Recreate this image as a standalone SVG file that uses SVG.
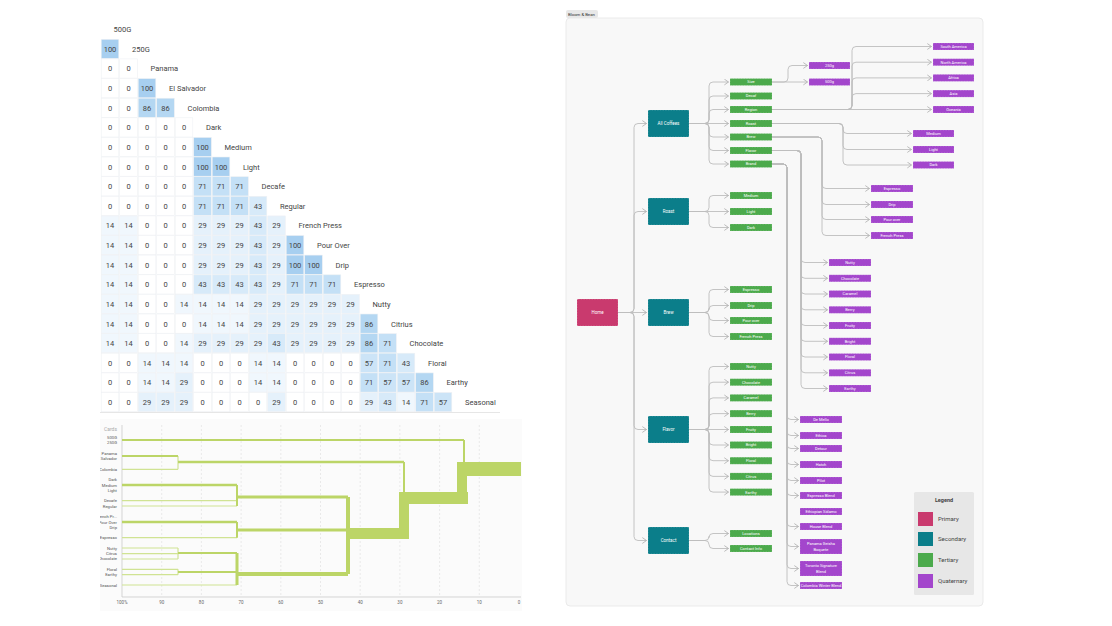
<svg xmlns="http://www.w3.org/2000/svg" width="1112" height="626" viewBox="0 0 1112 626">
<style>
text{font-family:Roboto,"Liberation Sans",sans-serif}
.m rect{width:17.6px;height:19.2px;stroke:#eef1f4;stroke-width:0.6}
.m text{font-size:7.5px;fill:#444;text-anchor:middle}
.m text.lb{text-anchor:start}
.v100{fill:#a7cff0}.v86{fill:#b4d7f2}.v71{fill:#c4e0f6}.v57{fill:#cce4f7}.v43{fill:#d7eaf9}.v29{fill:#e5f1fb}.v14{fill:#f0f7fd}.v0{fill:#ffffff}
.grid{stroke:#dddddd;stroke-width:0.6;stroke-dasharray:2 2}
.dl{fill:none;stroke:#bcd567;stroke-linecap:butt}
.dt{fill:none;stroke:#d0e393;stroke-width:1.2}
.band{fill:#bcd567}
.leaf{font-size:4.2px;fill:#555;text-anchor:end}
.tick{font-size:4.5px;fill:#666;text-anchor:middle}
.cn path{fill:none;stroke:#bdbdbd;stroke-width:0.9;marker-end:url(#ar)}
.nd rect{stroke:#ffffff;stroke-opacity:0.45;stroke-width:0.5;stroke-dasharray:1.5 1.2}
.nd text{fill:#ffffff;text-anchor:middle}
.p rect{fill:#c93a6e}.s rect{fill:#0b7e8a}.t rect{fill:#4caa4c}.q rect{fill:#a346cc}
.s text{font-size:4.5px}.t text,.q text{font-size:4px}.p text{font-size:4.5px}
.lg{font-size:6px;fill:#444}
</style>
<defs>
<marker id="ar" viewBox="0 0 6 8" refX="5.5" refY="4" markerWidth="5" markerHeight="7" markerUnits="userSpaceOnUse" orient="auto"><path d="M0.5,0.5 L5.5,4 L0.5,7.5" fill="none" stroke="#b0b0b0" stroke-width="1"/></marker>
<clipPath id="dc"><rect x="100" y="418" width="422" height="195"/></clipPath>
</defs>
<rect width="1112" height="626" fill="#ffffff"/>

<!-- Similarity matrix -->
<g class="m" id="matrix">
<text class="lb" x="113.5" y="32.3">500G</text>
<g transform="translate(0,39.3)"><rect class="v100" x="101.2"/><text x="110" y="12.6">100</text><text class="lb" x="132" y="12.6">250G</text></g>
<g transform="translate(0,58.9)"><rect class="v0" x="101.2"/><rect class="v0" x="119.7"/><text x="110" y="12.6">0</text><text x="128.5" y="12.6">0</text><text class="lb" x="150.5" y="12.6">Panama</text></g>
<g transform="translate(0,78.6)"><rect class="v0" x="101.2"/><rect class="v0" x="119.7"/><rect class="v100" x="138.2"/><text x="110" y="12.6">0</text><text x="128.5" y="12.6">0</text><text x="147" y="12.6">100</text><text class="lb" x="169" y="12.6">El Salvador</text></g>
<g transform="translate(0,98.2)"><rect class="v0" x="101.2"/><rect class="v0" x="119.7"/><rect class="v86" x="138.2"/><rect class="v86" x="156.7"/><text x="110" y="12.6">0</text><text x="128.5" y="12.6">0</text><text x="147" y="12.6">86</text><text x="165.5" y="12.6">86</text><text class="lb" x="187.5" y="12.6">Colombia</text></g>
<g transform="translate(0,117.8)"><rect class="v0" x="101.2"/><rect class="v0" x="119.7"/><rect class="v0" x="138.2"/><rect class="v0" x="156.7"/><rect class="v0" x="175.2"/><text x="110" y="12.6">0</text><text x="128.5" y="12.6">0</text><text x="147" y="12.6">0</text><text x="165.5" y="12.6">0</text><text x="184" y="12.6">0</text><text class="lb" x="206" y="12.6">Dark</text></g>
<g transform="translate(0,137.4)"><rect class="v0" x="101.2"/><rect class="v0" x="119.7"/><rect class="v0" x="138.2"/><rect class="v0" x="156.7"/><rect class="v0" x="175.2"/><rect class="v100" x="193.7"/><text x="110" y="12.6">0</text><text x="128.5" y="12.6">0</text><text x="147" y="12.6">0</text><text x="165.5" y="12.6">0</text><text x="184" y="12.6">0</text><text x="202.5" y="12.6">100</text><text class="lb" x="224.5" y="12.6">Medium</text></g>
<g transform="translate(0,157)"><rect class="v0" x="101.2"/><rect class="v0" x="119.7"/><rect class="v0" x="138.2"/><rect class="v0" x="156.7"/><rect class="v0" x="175.2"/><rect class="v100" x="193.7"/><rect class="v100" x="212.2"/><text x="110" y="12.6">0</text><text x="128.5" y="12.6">0</text><text x="147" y="12.6">0</text><text x="165.5" y="12.6">0</text><text x="184" y="12.6">0</text><text x="202.5" y="12.6">100</text><text x="221" y="12.6">100</text><text class="lb" x="243" y="12.6">Light</text></g>
<g transform="translate(0,176.7)"><rect class="v0" x="101.2"/><rect class="v0" x="119.7"/><rect class="v0" x="138.2"/><rect class="v0" x="156.7"/><rect class="v0" x="175.2"/><rect class="v71" x="193.7"/><rect class="v71" x="212.2"/><rect class="v71" x="230.7"/><text x="110" y="12.6">0</text><text x="128.5" y="12.6">0</text><text x="147" y="12.6">0</text><text x="165.5" y="12.6">0</text><text x="184" y="12.6">0</text><text x="202.5" y="12.6">71</text><text x="221" y="12.6">71</text><text x="239.5" y="12.6">71</text><text class="lb" x="261.5" y="12.6">Decafe</text></g>
<g transform="translate(0,196.3)"><rect class="v0" x="101.2"/><rect class="v0" x="119.7"/><rect class="v0" x="138.2"/><rect class="v0" x="156.7"/><rect class="v0" x="175.2"/><rect class="v71" x="193.7"/><rect class="v71" x="212.2"/><rect class="v71" x="230.7"/><rect class="v43" x="249.2"/><text x="110" y="12.6">0</text><text x="128.5" y="12.6">0</text><text x="147" y="12.6">0</text><text x="165.5" y="12.6">0</text><text x="184" y="12.6">0</text><text x="202.5" y="12.6">71</text><text x="221" y="12.6">71</text><text x="239.5" y="12.6">71</text><text x="258" y="12.6">43</text><text class="lb" x="280" y="12.6">Regular</text></g>
<g transform="translate(0,215.9)"><rect class="v14" x="101.2"/><rect class="v14" x="119.7"/><rect class="v0" x="138.2"/><rect class="v0" x="156.7"/><rect class="v0" x="175.2"/><rect class="v29" x="193.7"/><rect class="v29" x="212.2"/><rect class="v29" x="230.7"/><rect class="v43" x="249.2"/><rect class="v29" x="267.7"/><text x="110" y="12.6">14</text><text x="128.5" y="12.6">14</text><text x="147" y="12.6">0</text><text x="165.5" y="12.6">0</text><text x="184" y="12.6">0</text><text x="202.5" y="12.6">29</text><text x="221" y="12.6">29</text><text x="239.5" y="12.6">29</text><text x="258" y="12.6">43</text><text x="276.5" y="12.6">29</text><text class="lb" x="298.5" y="12.6">French Press</text></g>
<g transform="translate(0,235.5)"><rect class="v14" x="101.2"/><rect class="v14" x="119.7"/><rect class="v0" x="138.2"/><rect class="v0" x="156.7"/><rect class="v0" x="175.2"/><rect class="v29" x="193.7"/><rect class="v29" x="212.2"/><rect class="v29" x="230.7"/><rect class="v43" x="249.2"/><rect class="v29" x="267.7"/><rect class="v100" x="286.2"/><text x="110" y="12.6">14</text><text x="128.5" y="12.6">14</text><text x="147" y="12.6">0</text><text x="165.5" y="12.6">0</text><text x="184" y="12.6">0</text><text x="202.5" y="12.6">29</text><text x="221" y="12.6">29</text><text x="239.5" y="12.6">29</text><text x="258" y="12.6">43</text><text x="276.5" y="12.6">29</text><text x="295" y="12.6">100</text><text class="lb" x="317" y="12.6">Pour Over</text></g>
<g transform="translate(0,255.1)"><rect class="v14" x="101.2"/><rect class="v14" x="119.7"/><rect class="v0" x="138.2"/><rect class="v0" x="156.7"/><rect class="v0" x="175.2"/><rect class="v29" x="193.7"/><rect class="v29" x="212.2"/><rect class="v29" x="230.7"/><rect class="v43" x="249.2"/><rect class="v29" x="267.7"/><rect class="v100" x="286.2"/><rect class="v100" x="304.7"/><text x="110" y="12.6">14</text><text x="128.5" y="12.6">14</text><text x="147" y="12.6">0</text><text x="165.5" y="12.6">0</text><text x="184" y="12.6">0</text><text x="202.5" y="12.6">29</text><text x="221" y="12.6">29</text><text x="239.5" y="12.6">29</text><text x="258" y="12.6">43</text><text x="276.5" y="12.6">29</text><text x="295" y="12.6">100</text><text x="313.5" y="12.6">100</text><text class="lb" x="335.5" y="12.6">Drip</text></g>
<g transform="translate(0,274.8)"><rect class="v14" x="101.2"/><rect class="v14" x="119.7"/><rect class="v0" x="138.2"/><rect class="v0" x="156.7"/><rect class="v0" x="175.2"/><rect class="v43" x="193.7"/><rect class="v43" x="212.2"/><rect class="v43" x="230.7"/><rect class="v43" x="249.2"/><rect class="v29" x="267.7"/><rect class="v71" x="286.2"/><rect class="v71" x="304.7"/><rect class="v71" x="323.2"/><text x="110" y="12.6">14</text><text x="128.5" y="12.6">14</text><text x="147" y="12.6">0</text><text x="165.5" y="12.6">0</text><text x="184" y="12.6">0</text><text x="202.5" y="12.6">43</text><text x="221" y="12.6">43</text><text x="239.5" y="12.6">43</text><text x="258" y="12.6">43</text><text x="276.5" y="12.6">29</text><text x="295" y="12.6">71</text><text x="313.5" y="12.6">71</text><text x="332" y="12.6">71</text><text class="lb" x="354" y="12.6">Espresso</text></g>
<g transform="translate(0,294.4)"><rect class="v14" x="101.2"/><rect class="v14" x="119.7"/><rect class="v0" x="138.2"/><rect class="v0" x="156.7"/><rect class="v14" x="175.2"/><rect class="v14" x="193.7"/><rect class="v14" x="212.2"/><rect class="v14" x="230.7"/><rect class="v29" x="249.2"/><rect class="v29" x="267.7"/><rect class="v29" x="286.2"/><rect class="v29" x="304.7"/><rect class="v29" x="323.2"/><rect class="v29" x="341.7"/><text x="110" y="12.6">14</text><text x="128.5" y="12.6">14</text><text x="147" y="12.6">0</text><text x="165.5" y="12.6">0</text><text x="184" y="12.6">14</text><text x="202.5" y="12.6">14</text><text x="221" y="12.6">14</text><text x="239.5" y="12.6">14</text><text x="258" y="12.6">29</text><text x="276.5" y="12.6">29</text><text x="295" y="12.6">29</text><text x="313.5" y="12.6">29</text><text x="332" y="12.6">29</text><text x="350.5" y="12.6">29</text><text class="lb" x="372.5" y="12.6">Nutty</text></g>
<g transform="translate(0,314)"><rect class="v14" x="101.2"/><rect class="v14" x="119.7"/><rect class="v0" x="138.2"/><rect class="v0" x="156.7"/><rect class="v0" x="175.2"/><rect class="v14" x="193.7"/><rect class="v14" x="212.2"/><rect class="v14" x="230.7"/><rect class="v29" x="249.2"/><rect class="v29" x="267.7"/><rect class="v29" x="286.2"/><rect class="v29" x="304.7"/><rect class="v29" x="323.2"/><rect class="v29" x="341.7"/><rect class="v86" x="360.2"/><text x="110" y="12.6">14</text><text x="128.5" y="12.6">14</text><text x="147" y="12.6">0</text><text x="165.5" y="12.6">0</text><text x="184" y="12.6">0</text><text x="202.5" y="12.6">14</text><text x="221" y="12.6">14</text><text x="239.5" y="12.6">14</text><text x="258" y="12.6">29</text><text x="276.5" y="12.6">29</text><text x="295" y="12.6">29</text><text x="313.5" y="12.6">29</text><text x="332" y="12.6">29</text><text x="350.5" y="12.6">29</text><text x="369" y="12.6">86</text><text class="lb" x="391" y="12.6">Citrius</text></g>
<g transform="translate(0,333.6)"><rect class="v14" x="101.2"/><rect class="v14" x="119.7"/><rect class="v0" x="138.2"/><rect class="v0" x="156.7"/><rect class="v14" x="175.2"/><rect class="v29" x="193.7"/><rect class="v29" x="212.2"/><rect class="v29" x="230.7"/><rect class="v29" x="249.2"/><rect class="v43" x="267.7"/><rect class="v29" x="286.2"/><rect class="v29" x="304.7"/><rect class="v29" x="323.2"/><rect class="v29" x="341.7"/><rect class="v86" x="360.2"/><rect class="v71" x="378.7"/><text x="110" y="12.6">14</text><text x="128.5" y="12.6">14</text><text x="147" y="12.6">0</text><text x="165.5" y="12.6">0</text><text x="184" y="12.6">14</text><text x="202.5" y="12.6">29</text><text x="221" y="12.6">29</text><text x="239.5" y="12.6">29</text><text x="258" y="12.6">29</text><text x="276.5" y="12.6">43</text><text x="295" y="12.6">29</text><text x="313.5" y="12.6">29</text><text x="332" y="12.6">29</text><text x="350.5" y="12.6">29</text><text x="369" y="12.6">86</text><text x="387.5" y="12.6">71</text><text class="lb" x="409.5" y="12.6">Chocolate</text></g>
<g transform="translate(0,353.2)"><rect class="v0" x="101.2"/><rect class="v0" x="119.7"/><rect class="v14" x="138.2"/><rect class="v14" x="156.7"/><rect class="v14" x="175.2"/><rect class="v0" x="193.7"/><rect class="v0" x="212.2"/><rect class="v0" x="230.7"/><rect class="v14" x="249.2"/><rect class="v14" x="267.7"/><rect class="v0" x="286.2"/><rect class="v0" x="304.7"/><rect class="v0" x="323.2"/><rect class="v0" x="341.7"/><rect class="v57" x="360.2"/><rect class="v71" x="378.7"/><rect class="v43" x="397.2"/><text x="110" y="12.6">0</text><text x="128.5" y="12.6">0</text><text x="147" y="12.6">14</text><text x="165.5" y="12.6">14</text><text x="184" y="12.6">14</text><text x="202.5" y="12.6">0</text><text x="221" y="12.6">0</text><text x="239.5" y="12.6">0</text><text x="258" y="12.6">14</text><text x="276.5" y="12.6">14</text><text x="295" y="12.6">0</text><text x="313.5" y="12.6">0</text><text x="332" y="12.6">0</text><text x="350.5" y="12.6">0</text><text x="369" y="12.6">57</text><text x="387.5" y="12.6">71</text><text x="406" y="12.6">43</text><text class="lb" x="428" y="12.6">Floral</text></g>
<g transform="translate(0,372.9)"><rect class="v0" x="101.2"/><rect class="v0" x="119.7"/><rect class="v14" x="138.2"/><rect class="v14" x="156.7"/><rect class="v29" x="175.2"/><rect class="v0" x="193.7"/><rect class="v0" x="212.2"/><rect class="v0" x="230.7"/><rect class="v14" x="249.2"/><rect class="v14" x="267.7"/><rect class="v0" x="286.2"/><rect class="v0" x="304.7"/><rect class="v0" x="323.2"/><rect class="v0" x="341.7"/><rect class="v71" x="360.2"/><rect class="v57" x="378.7"/><rect class="v57" x="397.2"/><rect class="v86" x="415.7"/><text x="110" y="12.6">0</text><text x="128.5" y="12.6">0</text><text x="147" y="12.6">14</text><text x="165.5" y="12.6">14</text><text x="184" y="12.6">29</text><text x="202.5" y="12.6">0</text><text x="221" y="12.6">0</text><text x="239.5" y="12.6">0</text><text x="258" y="12.6">14</text><text x="276.5" y="12.6">14</text><text x="295" y="12.6">0</text><text x="313.5" y="12.6">0</text><text x="332" y="12.6">0</text><text x="350.5" y="12.6">0</text><text x="369" y="12.6">71</text><text x="387.5" y="12.6">57</text><text x="406" y="12.6">57</text><text x="424.5" y="12.6">86</text><text class="lb" x="446.5" y="12.6">Earthy</text></g>
<g transform="translate(0,392.5)"><rect class="v0" x="101.2"/><rect class="v0" x="119.7"/><rect class="v29" x="138.2"/><rect class="v29" x="156.7"/><rect class="v29" x="175.2"/><rect class="v0" x="193.7"/><rect class="v0" x="212.2"/><rect class="v0" x="230.7"/><rect class="v0" x="249.2"/><rect class="v29" x="267.7"/><rect class="v0" x="286.2"/><rect class="v0" x="304.7"/><rect class="v0" x="323.2"/><rect class="v0" x="341.7"/><rect class="v29" x="360.2"/><rect class="v43" x="378.7"/><rect class="v14" x="397.2"/><rect class="v71" x="415.7"/><rect class="v57" x="434.2"/><text x="110" y="12.6">0</text><text x="128.5" y="12.6">0</text><text x="147" y="12.6">29</text><text x="165.5" y="12.6">29</text><text x="184" y="12.6">29</text><text x="202.5" y="12.6">0</text><text x="221" y="12.6">0</text><text x="239.5" y="12.6">0</text><text x="258" y="12.6">0</text><text x="276.5" y="12.6">29</text><text x="295" y="12.6">0</text><text x="313.5" y="12.6">0</text><text x="332" y="12.6">0</text><text x="350.5" y="12.6">0</text><text x="369" y="12.6">29</text><text x="387.5" y="12.6">43</text><text x="406" y="12.6">14</text><text x="424.5" y="12.6">71</text><text x="443" y="12.6">57</text><text class="lb" x="465" y="12.6">Seasonal</text></g>
<line x1="100" y1="412.5" x2="500" y2="412.5" stroke="#e6e6e6" stroke-width="1"/>
</g>

<!-- Dendrogram -->
<g id="dendrogram" clip-path="url(#dc)">
<rect x="100" y="419" width="422" height="192" fill="#fbfbfb"/>
<text x="104" y="431" font-size="5" fill="#aaaaaa">Cards</text>
<g>
<line class="grid" x1="161.7" y1="425" x2="161.7" y2="597"/><line class="grid" x1="201.4" y1="425" x2="201.4" y2="597"/><line class="grid" x1="241.1" y1="425" x2="241.1" y2="597"/><line class="grid" x1="280.8" y1="425" x2="280.8" y2="597"/><line class="grid" x1="320.5" y1="425" x2="320.5" y2="597"/><line class="grid" x1="360.2" y1="425" x2="360.2" y2="597"/><line class="grid" x1="399.9" y1="425" x2="399.9" y2="597"/><line class="grid" x1="439.6" y1="425" x2="439.6" y2="597"/><line class="grid" x1="479.3" y1="425" x2="479.3" y2="597"/>
</g>
<line x1="122" y1="425" x2="122" y2="597" stroke="#c4c4c4" stroke-width="0.7"/>
<line x1="122" y1="597" x2="521" y2="597" stroke="#c4c4c4" stroke-width="0.7"/>
<text class="tick" x="122" y="604">100%</text><text class="tick" x="161.7" y="604">90</text><text class="tick" x="201.4" y="604">80</text><text class="tick" x="241.1" y="604">70</text><text class="tick" x="280.8" y="604">60</text><text class="tick" x="320.5" y="604">50</text><text class="tick" x="360.2" y="604">40</text><text class="tick" x="399.9" y="604">30</text><text class="tick" x="439.6" y="604">20</text><text class="tick" x="479.3" y="604">10</text><text class="tick" x="519" y="604">0</text>
<text class="leaf" x="117" y="438.8">500G</text><text class="leaf" x="117" y="444.2">250G</text>
<text class="leaf" x="117" y="454.8">Panama</text><text class="leaf" x="117" y="460.2">El Salvador</text><text class="leaf" x="117" y="470.8">Colombia</text>
<text class="leaf" x="117" y="481.2">Dark</text><text class="leaf" x="117" y="486.5">Medium</text><text class="leaf" x="117" y="491.8">Light</text>
<text class="leaf" x="117" y="502.2">Decafe</text><text class="leaf" x="117" y="507.5">Regular</text>
<text class="leaf" x="117" y="518.2">French Pr...</text><text class="leaf" x="117" y="523.5">Pour Over</text><text class="leaf" x="117" y="528.8">Drip</text><text class="leaf" x="117" y="539.2">Espresso</text>
<text class="leaf" x="117" y="549.5">Nutty</text><text class="leaf" x="117" y="555.2">Citrus</text><text class="leaf" x="117" y="560.2">Chocolate</text>
<text class="leaf" x="117" y="570.8">Floral</text><text class="leaf" x="117" y="576.2">Earthy</text><text class="leaf" x="117" y="586.5">Seasonal</text>
<g>
<path class="dt" d="M122 469.3H178M122 500.7H237M122 506H237M122 537.7H237M122 548H178M122 553.7H178M122 559H178M122 569.3H178M122 574.7H178M122 585H237M178 548V559M178 569.3V574.7M178 456V469.3"/>
<path class="dl" stroke-width="2" d="M122 440H464M122 456H178"/>
<path class="dl" stroke-width="2.5" d="M178 462H404M122 485H237M122 522H237"/>
<path class="dl" stroke-width="2" d="M237 485V506M237 522V537.7M178 553H237M178 572H237M464 440V470M404 462V498"/>
<path class="dl" stroke-width="3" d="M237 497H348M237 530H348M237 553V585"/>
<path class="dl" stroke-width="4" d="M237 574H348M348 497V574"/>
<rect class="band" x="348" y="528" width="56" height="11"/>
<rect class="band" x="399" y="492" width="10" height="47"/>
<rect class="band" x="399" y="492" width="69" height="12"/>
<rect class="band" x="457" y="470" width="10" height="34"/>
<rect class="band" x="457" y="462" width="64" height="14"/>
</g>
</g>

<!-- Sitemap panel -->
<rect x="566" y="18" width="417" height="588" rx="4" fill="#f8f8f8" stroke="#e6e6e6" stroke-width="0.8"/>
<rect x="566" y="10" width="32" height="8" rx="2" fill="#e8e8e8"/>
<text x="568" y="15.8" font-size="4.3" fill="#333">Bloom &amp; Bean</text>

<g class="cn" id="connectors">
<path d="M618 312.5H630Q634 312.5 634 308.5V127.5Q634 123.5 638 123.5H646.5"/>
<path d="M618 312.5H630Q634 312.5 634 308.5V215.5Q634 211.5 638 211.5H646.5"/>
<path d="M618 312.5H646.5"/>
<path d="M618 312.5H630Q634 312.5 634 316.5V425.5Q634 429.5 638 429.5H646.5"/>
<path d="M618 312.5H630Q634 312.5 634 316.5V536.5Q634 540.5 638 540.5H646.5"/>
<path d="M689 123.5H705Q709 123.5 709 119.5V86Q709 82 713 82H728.5"/>
<path d="M689 123.5H705Q709 123.5 709 119.5V100Q709 96 713 96H728.5"/>
<path d="M689 123.5H705Q709 123.5 709 119.5V113.5Q709 109.5 713 109.5H728.5"/>
<path d="M689 123.5H728.5"/>
<path d="M689 123.5H705Q709 123.5 709 127.5V133Q709 137 713 137H728.5"/>
<path d="M689 123.5H705Q709 123.5 709 127.5V146.5Q709 150.5 713 150.5H728.5"/>
<path d="M689 123.5H705Q709 123.5 709 127.5V160Q709 164 713 164H728.5"/>
<path d="M689 211.5H705Q709 211.5 709 207.5V199.5Q709 195.5 713 195.5H728.5"/>
<path d="M689 211.5H728.5"/>
<path d="M689 211.5H705Q709 211.5 709 215.5V223.5Q709 227.5 713 227.5H728.5"/>
<path d="M689 312.5H705Q709 312.5 709 308.5V293.5Q709 289.5 713 289.5H728.5"/>
<path d="M689 312.5H705Q709 312.5 709 308.5V309.5Q709 305.5 713 305.5H728.5"/>
<path d="M689 312.5H705Q709 312.5 709 316.5V316.5Q709 320.5 713 320.5H728.5"/>
<path d="M689 312.5H705Q709 312.5 709 316.5V332.5Q709 336.5 713 336.5H728.5"/>
<path d="M689 429.5H705Q709 429.5 709 425.5V370.5Q709 366.5 713 366.5H728.5"/>
<path d="M689 429.5H705Q709 429.5 709 425.5V386.2Q709 382.2 713 382.2H728.5"/>
<path d="M689 429.5H705Q709 429.5 709 425.5V401.9Q709 397.9 713 397.9H728.5"/>
<path d="M689 429.5H705Q709 429.5 709 425.5V417.6Q709 413.6 713 413.6H728.5"/>
<path d="M689 429.5H728.5"/>
<path d="M689 429.5H705Q709 429.5 709 433.5V441Q709 445 713 445H728.5"/>
<path d="M689 429.5H705Q709 429.5 709 433.5V456.7Q709 460.7 713 460.7H728.5"/>
<path d="M689 429.5H705Q709 429.5 709 433.5V472.4Q709 476.4 713 476.4H728.5"/>
<path d="M689 429.5H705Q709 429.5 709 433.5V488.1Q709 492.1 713 492.1H728.5"/>
<path d="M689 540.5H705Q709 540.5 709 536.5V537.5Q709 533.5 713 533.5H728.5"/>
<path d="M689 540.5H705Q709 540.5 709 544.5V544.5Q709 548.5 713 548.5H728.5"/>
<path d="M772 82H784Q788 82 788 78V69.5Q788 65.5 792 65.5H807.5"/>
<path d="M772 82H807.5"/>
<path d="M772 109.5H848Q852 109.5 852 105.5V50.5Q852 46.5 856 46.5H931.5"/>
<path d="M772 109.5H848Q852 109.5 852 105.5V66.2Q852 62.2 856 62.2H931.5"/>
<path d="M772 109.5H848Q852 109.5 852 105.5V81.9Q852 77.9 856 77.9H931.5"/>
<path d="M772 109.5H848Q852 109.5 852 105.5V97.6Q852 93.6 856 93.6H931.5"/>
<path d="M772 109.5H931.5"/>
<path d="M772 123.5H839Q843 123.5 843 127.5V129.5Q843 133.5 847 133.5H911.5"/>
<path d="M772 123.5H839Q843 123.5 843 127.5V145.5Q843 149.5 847 149.5H911.5"/>
<path d="M772 123.5H839Q843 123.5 843 127.5V161Q843 165 847 165H911.5"/>
<path d="M772 137H818Q822 137 822 141V184.5Q822 188.5 826 188.5H869.5"/>
<path d="M772 137H818Q822 137 822 141V200.5Q822 204.5 826 204.5H869.5"/>
<path d="M772 137H818Q822 137 822 141V215.5Q822 219.5 826 219.5H869.5"/>
<path d="M772 137H818Q822 137 822 141V231.5Q822 235.5 826 235.5H869.5"/>
<path d="M772 150.5H797Q801 150.5 801 154.5V258.5Q801 262.5 805 262.5H827.5"/>
<path d="M772 150.5H797Q801 150.5 801 154.5V274.3Q801 278.3 805 278.3H827.5"/>
<path d="M772 150.5H797Q801 150.5 801 154.5V290Q801 294 805 294H827.5"/>
<path d="M772 150.5H797Q801 150.5 801 154.5V305.8Q801 309.8 805 309.8H827.5"/>
<path d="M772 150.5H797Q801 150.5 801 154.5V321.5Q801 325.5 805 325.5H827.5"/>
<path d="M772 150.5H797Q801 150.5 801 154.5V337.3Q801 341.3 805 341.3H827.5"/>
<path d="M772 150.5H797Q801 150.5 801 154.5V353Q801 357 805 357H827.5"/>
<path d="M772 150.5H797Q801 150.5 801 154.5V368.8Q801 372.8 805 372.8H827.5"/>
<path d="M772 150.5H797Q801 150.5 801 154.5V384.5Q801 388.5 805 388.5H827.5"/>
<path d="M772 164H783Q787 164 787 168V415.5Q787 419.5 791 419.5H798.5"/>
<path d="M772 164H783Q787 164 787 168V431.5Q787 435.5 791 435.5H798.5"/>
<path d="M772 164H783Q787 164 787 168V444.5Q787 448.5 791 448.5H798.5"/>
<path d="M772 164H783Q787 164 787 168V460.5Q787 464.5 791 464.5H798.5"/>
<path d="M772 164H783Q787 164 787 168V476.5Q787 480.5 791 480.5H798.5"/>
<path d="M772 164H783Q787 164 787 168V491.5Q787 495.5 791 495.5H798.5"/>
<path d="M772 164H783Q787 164 787 168V522.5Q787 526.5 791 526.5H798.5"/>
<path d="M772 164H783Q787 164 787 168V542.5Q787 546.5 791 546.5H798.5"/>
<path d="M772 164H783Q787 164 787 168V564.5Q787 568.5 791 568.5H798.5"/>
<path d="M772 164H783Q787 164 787 168V581.5Q787 585.5 791 585.5H798.5"/>
</g>

<g id="home" class="nd p"><rect x="577" y="299" width="41" height="27" rx="1"/><text x="597.5" y="314">Home</text></g>
<g id="all-coffees" class="nd s"><rect x="648" y="110" width="41" height="27" rx="1"/><text x="668.5" y="125">All Coffees</text></g>
<g id="roast" class="nd s"><rect x="648" y="198" width="41" height="27" rx="1"/><text x="668.5" y="213">Roast</text></g>
<g id="brew" class="nd s"><rect x="648" y="299" width="41" height="27" rx="1"/><text x="668.5" y="314">Brew</text></g>
<g id="flavor" class="nd s"><rect x="648" y="416" width="41" height="27" rx="1"/><text x="668.5" y="431">Flavor</text></g>
<g id="contact" class="nd s"><rect x="648" y="527" width="41" height="27" rx="1"/><text x="668.5" y="542">Contact</text></g>

<g id="t-size" class="nd t"><rect x="730" y="78.5" width="42" height="7"/><text x="751" y="83.4">Size</text></g>
<g id="t-decaf" class="nd t"><rect x="730" y="92.5" width="42" height="7"/><text x="751" y="97.4">Decaf</text></g>
<g id="t-region" class="nd t"><rect x="730" y="106" width="42" height="7"/><text x="751" y="110.9">Region</text></g>
<g id="t-roast" class="nd t"><rect x="730" y="120" width="42" height="7"/><text x="751" y="124.9">Roast</text></g>
<g id="t-brew" class="nd t"><rect x="730" y="133.5" width="42" height="7"/><text x="751" y="138.4">Brew</text></g>
<g id="t-flavor" class="nd t"><rect x="730" y="147" width="42" height="7"/><text x="751" y="151.9">Flavor</text></g>
<g id="t-brand" class="nd t"><rect x="730" y="160.5" width="42" height="7"/><text x="751" y="165.4">Brand</text></g>
<g id="t-medium" class="nd t"><rect x="730" y="192" width="42" height="7"/><text x="751" y="196.9">Medium</text></g>
<g id="t-light" class="nd t"><rect x="730" y="208" width="42" height="7"/><text x="751" y="212.9">Light</text></g>
<g id="t-dark" class="nd t"><rect x="730" y="224" width="42" height="7"/><text x="751" y="228.9">Dark</text></g>
<g id="t-espresso" class="nd t"><rect x="730" y="286" width="42" height="7"/><text x="751" y="290.9">Espresso</text></g>
<g id="t-drip" class="nd t"><rect x="730" y="302" width="42" height="7"/><text x="751" y="306.9">Drip</text></g>
<g id="t-pour" class="nd t"><rect x="730" y="317" width="42" height="7"/><text x="751" y="321.9">Pour over</text></g>
<g id="t-french" class="nd t"><rect x="730" y="333" width="42" height="7"/><text x="751" y="337.9">French Press</text></g>
<g id="t-nutty" class="nd t"><rect x="730" y="363" width="42" height="7"/><text x="751" y="367.9">Nutty</text></g>
<g id="t-chocolate" class="nd t"><rect x="730" y="378.7" width="42" height="7"/><text x="751" y="383.6">Chocolate</text></g>
<g id="t-caramel" class="nd t"><rect x="730" y="394.4" width="42" height="7"/><text x="751" y="399.3">Caramel</text></g>
<g id="t-berry" class="nd t"><rect x="730" y="410.1" width="42" height="7"/><text x="751" y="415">Berry</text></g>
<g id="t-fruity" class="nd t"><rect x="730" y="426" width="42" height="7"/><text x="751" y="430.9">Fruity</text></g>
<g id="t-bright" class="nd t"><rect x="730" y="441.5" width="42" height="7"/><text x="751" y="446.4">Bright</text></g>
<g id="t-floral" class="nd t"><rect x="730" y="457.2" width="42" height="7"/><text x="751" y="462.1">Floral</text></g>
<g id="t-citrus" class="nd t"><rect x="730" y="472.9" width="42" height="7"/><text x="751" y="477.8">Citrus</text></g>
<g id="t-earthy" class="nd t"><rect x="730" y="488.6" width="42" height="7"/><text x="751" y="493.5">Earthy</text></g>
<g id="t-locations" class="nd t"><rect x="730" y="530" width="42" height="7"/><text x="751" y="534.9">Locations</text></g>
<g id="t-contact-info" class="nd t"><rect x="730" y="545" width="42" height="7"/><text x="751" y="549.9">Contact Info</text></g>

<g id="q-250g" class="nd q"><rect x="809" y="62" width="41" height="7"/><text x="829.5" y="66.9">250g</text></g>
<g id="q-500g" class="nd q"><rect x="809" y="78.5" width="41" height="7"/><text x="829.5" y="83.4">500g</text></g>
<g id="q-south-america" class="nd q"><rect x="933" y="43" width="41" height="7"/><text x="953.5" y="47.9">South America</text></g>
<g id="q-north-america" class="nd q"><rect x="933" y="58.7" width="41" height="7"/><text x="953.5" y="63.6">North America</text></g>
<g id="q-africa" class="nd q"><rect x="933" y="74.4" width="41" height="7"/><text x="953.5" y="79.3">Africa</text></g>
<g id="q-asia" class="nd q"><rect x="933" y="90.1" width="41" height="7"/><text x="953.5" y="95">Asia</text></g>
<g id="q-oceania" class="nd q"><rect x="933" y="106" width="41" height="7"/><text x="953.5" y="110.9">Oceania</text></g>
<g id="q-medium" class="nd q"><rect x="913" y="130" width="41" height="7"/><text x="933.5" y="134.9">Medium</text></g>
<g id="q-light" class="nd q"><rect x="913" y="146" width="41" height="7"/><text x="933.5" y="150.9">Light</text></g>
<g id="q-dark" class="nd q"><rect x="913" y="161.5" width="41" height="7"/><text x="933.5" y="166.4">Dark</text></g>
<g id="q-espresso" class="nd q"><rect x="871" y="185" width="42" height="7"/><text x="892" y="189.9">Espresso</text></g>
<g id="q-drip" class="nd q"><rect x="871" y="201" width="42" height="7"/><text x="892" y="205.9">Drip</text></g>
<g id="q-pour" class="nd q"><rect x="871" y="216" width="42" height="7"/><text x="892" y="220.9">Pour over</text></g>
<g id="q-french" class="nd q"><rect x="871" y="232" width="42" height="7"/><text x="892" y="236.9">French Press</text></g>
<g id="q-nutty" class="nd q"><rect x="829" y="259" width="42" height="7"/><text x="850" y="263.9">Nutty</text></g>
<g id="q-chocolate" class="nd q"><rect x="829" y="274.8" width="42" height="7"/><text x="850" y="279.7">Chocolate</text></g>
<g id="q-caramel" class="nd q"><rect x="829" y="290.5" width="42" height="7"/><text x="850" y="295.4">Caramel</text></g>
<g id="q-berry" class="nd q"><rect x="829" y="306.3" width="42" height="7"/><text x="850" y="311.2">Berry</text></g>
<g id="q-fruity" class="nd q"><rect x="829" y="322" width="42" height="7"/><text x="850" y="326.9">Fruity</text></g>
<g id="q-bright" class="nd q"><rect x="829" y="337.8" width="42" height="7"/><text x="850" y="342.7">Bright</text></g>
<g id="q-floral" class="nd q"><rect x="829" y="353.5" width="42" height="7"/><text x="850" y="358.4">Floral</text></g>
<g id="q-citrus" class="nd q"><rect x="829" y="369.3" width="42" height="7"/><text x="850" y="374.2">Citrus</text></g>
<g id="q-earthy" class="nd q"><rect x="829" y="385" width="42" height="7"/><text x="850" y="389.9">Earthy</text></g>
<g id="q-demello" class="nd q"><rect x="800" y="416" width="42" height="7"/><text x="821" y="420.9">De Mello</text></g>
<g id="q-ethica" class="nd q"><rect x="800" y="432" width="42" height="7"/><text x="821" y="436.9">Ethica</text></g>
<g id="q-detour" class="nd q"><rect x="800" y="445" width="42" height="7"/><text x="821" y="449.9">Detour</text></g>
<g id="q-hatch" class="nd q"><rect x="800" y="461" width="42" height="7"/><text x="821" y="465.9">Hatch</text></g>
<g id="q-pilot" class="nd q"><rect x="800" y="477" width="42" height="7"/><text x="821" y="481.9">Pilot</text></g>
<g id="q-espresso-blend" class="nd q"><rect x="800" y="492" width="42" height="7"/><text x="821" y="496.9">Espresso Blend</text></g>
<g id="q-ethiopian" class="nd q"><rect x="800" y="508" width="42" height="7"/><text x="821" y="512.9">Ethiopian Sidamo</text></g>
<g id="q-house" class="nd q"><rect x="800" y="523" width="42" height="7"/><text x="821" y="527.9">House Blend</text></g>
<g id="q-panama" class="nd q"><rect x="800" y="539" width="42" height="15"/><text x="821" y="545.4">Panama Geisha</text><text x="821" y="551">Boquete</text></g>
<g id="q-toronto" class="nd q"><rect x="800" y="561" width="42" height="15"/><text x="821" y="567.4">Toronto Signature</text><text x="821" y="573">Blend</text></g>
<g id="q-colombia" class="nd q"><rect x="800" y="582" width="42" height="7"/><text x="821" y="586.9">Colombia Winter Blend</text></g>

<g id="legend">
<rect x="914" y="492" width="60" height="103" rx="1.5" fill="#e7e7e7"/>
<text x="944" y="502" font-size="5.5" font-weight="bold" fill="#444" text-anchor="middle">Legend</text>
<rect x="918" y="512" width="15" height="14" fill="#c93a6e"/><text class="lg" x="938" y="520.5">Primary</text>
<rect x="918" y="532" width="15" height="14" fill="#0b7e8a"/><text class="lg" x="938" y="541">Secondary</text>
<rect x="918" y="553" width="15" height="14" fill="#4caa4c"/><text class="lg" x="938" y="562">Tertiary</text>
<rect x="918" y="574" width="15" height="14" fill="#a346cc"/><text class="lg" x="938" y="583">Quaternary</text>
</g>
</svg>
